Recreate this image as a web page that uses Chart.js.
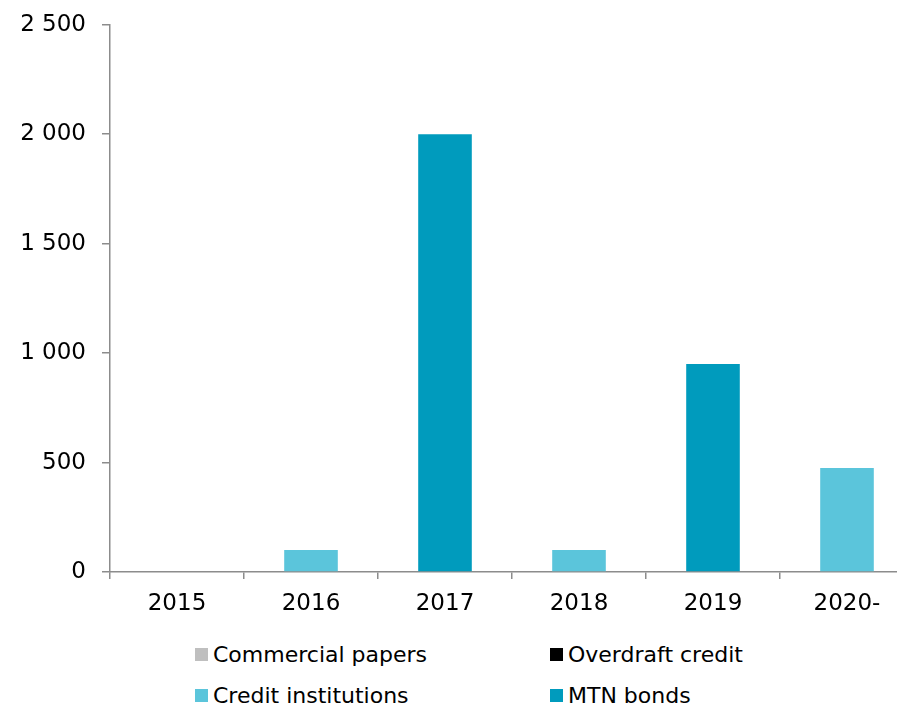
<!DOCTYPE html>
<html>
<head>
<meta charset="utf-8">
<script src="https://cdn.jsdelivr.net/npm/chart.js@4/dist/chart.umd.min.js"></script>
<style>
    html, body { margin: 0; padding: 0; background: #fff; overflow: hidden; }
    #wrap { position: relative; width: 897px; height: 709px; overflow: hidden; }
    #box { position: absolute; left: 0; top: -5px; width: 914px; height: 625px; }
    #legend {
        position: absolute; left: 195px; top: 641px;
        display: grid; grid-template-columns: 355px 300px; row-gap: 15px;
        font-family: "DejaVu Sans", Verdana, sans-serif; font-size: 22px; color: #000;
    }
    .item { display: flex; align-items: center; height: 26px; }
    .swatch { width: 13px; height: 13px; margin-right: 5px; }
</style>
</head>
<body>
<div id="wrap">
    <div id="box"><canvas id="debtChart"></canvas></div>
    <div id="legend"></div>
</div>
<script>
const FONT = '"DejaVu Sans", Verdana, sans-serif';
const AXIS_GREY = '#8c8c8c';

// maturity buckets
const years = ['2015', '2016', '2017', '2018', '2019', '2020-'];

// outstanding amounts per funding source
const commercialPapers = [0, 0, 0, 0, 0, 0];
const overdraftCredit = [0, 0, 0, 0, 0, 0];
const creditInstitutions = [0, 100, 0, 100, 0, 475];
const mtnBonds = [0, 0, 2000, 0, 950, 0];

const yTicks = [0, 500, 1000, 1500, 2000, 2500];

function spaceThousands(value) {
    return String(value).replace(/\B(?=(\d{3})+(?!\d))/g, ' ');
}

const canvas = document.querySelector('#debtChart');
const chart = new Chart(canvas, {
    type: 'bar',
    data: {
        labels: years,
        datasets: [
            { label: 'Commercial papers', data: commercialPapers, backgroundColor: '#bfbfbf' },
            { label: 'Overdraft credit', data: overdraftCredit, backgroundColor: '#000000' },
            { label: 'Credit institutions', data: creditInstitutions, backgroundColor: '#5bc5db' },
            { label: 'MTN bonds', data: mtnBonds, backgroundColor: '#009bbd' }
        ]
    },
    options: {
        responsive: true,
        maintainAspectRatio: false,
        animation: false,
        datasets: {
            bar: { barPercentage: 0.4, categoryPercentage: 1, borderWidth: 0 }
        },
        layout: { padding: { top: 19, right: 0, left: 0, bottom: 0 } },
        plugins: {
            legend: { display: false },
            tooltip: { enabled: false }
        },
        scales: {
            x: {
                stacked: true,
                offset: true,
                border: { color: AXIS_GREY, width: 1.5 },
                grid: {
                    offset: true,
                    drawOnChartArea: false,
                    color: AXIS_GREY,
                    lineWidth: 1.5,
                    tickLength: 7
                },
                ticks: {
                    color: '#000',
                    font: { family: FONT, size: 23 },
                    padding: 11,
                    maxRotation: 0
                },
                afterFit: scale => { scale.height = 48; }
            },
            y: {
                stacked: true,
                min: 0,
                max: 2500,
                border: { color: AXIS_GREY, width: 1.5 },
                grid: {
                    drawOnChartArea: false,
                    color: AXIS_GREY,
                    lineWidth: 1.5,
                    tickLength: 8
                },
                afterBuildTicks: scale => {
                    scale.ticks = yTicks.map(value => ({ value }));
                },
                ticks: {
                    color: '#000',
                    font: { family: FONT, size: 23 },
                    padding: 16,
                    callback: value => spaceThousands(value)
                },
                afterFit: scale => { scale.width = 110; }
            }
        }
    }
});

// legend in two columns, built from the chart's own datasets
const legendDiv = document.querySelector('#legend');
chart.data.datasets.forEach(ds => {
    const item = document.createElement('div');
    item.className = 'item';
    const swatch = document.createElement('span');
    swatch.className = 'swatch';
    swatch.style.background = ds.backgroundColor;
    const text = document.createElement('span');
    text.textContent = ds.label;
    item.appendChild(swatch);
    item.appendChild(text);
    legendDiv.appendChild(item);
});
</script>
</body>
</html>
